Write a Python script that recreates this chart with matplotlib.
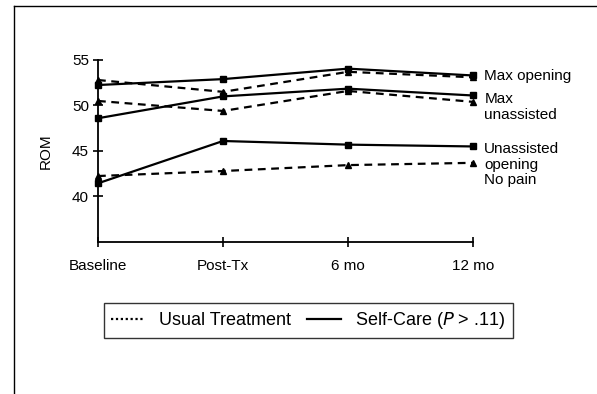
import matplotlib
matplotlib.use("Agg")
import matplotlib.pyplot as plt
from matplotlib.lines import Line2D

plt.rcParams['font.family'] = ['Liberation Sans', 'DejaVu Sans']

timepoints = ['Baseline', 'Post-Tx', '6 mo', '12 mo']

# Self-Care (solid, squares)
sc_max_opening = [52.25, 52.9, 54.05, 53.3]
sc_max_unassisted = [48.6, 51.0, 51.85, 51.1]
sc_no_pain = [41.45, 46.1, 45.7, 45.5]

# Usual Treatment (dashed, triangles)
ut_max_opening = [52.8, 51.5, 53.7, 53.1]
ut_max_unassisted = [50.5, 49.4, 51.6, 50.4]
ut_no_pain = [42.25, 42.8, 43.45, 43.7]

right_labels = ['Max opening', 'Max\nunassisted', 'Unassisted\nopening\nNo pain']
label_y = [53.25, 51.45, 45.95]

fig = plt.figure(figsize=(5.97, 3.94), dpi=100)
ax = fig.add_axes([98 / 597, 1 - 242 / 394, 375 / 597, 182 / 394])

x = range(len(timepoints))
for vals in (ut_max_opening, ut_max_unassisted, ut_no_pain):
    ax.plot(x, vals, color='black', lw=1.6, ls=(0, (3.5, 2.5)), marker='^',
            ms=4.5, clip_on=False)
for vals in (sc_max_opening, sc_max_unassisted, sc_no_pain):
    ax.plot(x, vals, color='black', lw=1.6, ls='-', marker='s',
            ms=4.5, clip_on=False)

ax.set_xlim(0, 3)
ax.set_ylim(35, 55)
ax.set_yticks([40, 45, 50, 55])
ax.set_xticks(list(x))
ax.set_xticklabels(timepoints)
for s in ('top', 'right'):
    ax.spines[s].set_visible(False)
for s in ('left', 'bottom'):
    ax.spines[s].set_linewidth(1.3)
ax.tick_params(direction='inout', length=7, width=1.2, labelsize=11,
               colors='black')
ax.tick_params(axis='x', pad=9)
ax.tick_params(axis='y', pad=3)
ax.set_ylabel('ROM', fontsize=11, labelpad=14)

for lab, yv in zip(right_labels, label_y):
    ax.text(3.09, yv, lab, fontsize=11, va='top' if '\n' in lab else 'center',
            ha='left', transform=ax.transData, linespacing=1.12)

# figure frame (left and top edges only)
fig.add_artist(Line2D([14 / 597, 14 / 597], [0, 1 - 6 / 394], color='black',
                      lw=1, transform=fig.transFigure))
fig.add_artist(Line2D([14 / 597, 1], [1 - 6 / 394, 1 - 6 / 394], color='black',
                      lw=1, transform=fig.transFigure))

handles = [Line2D([], [], color='black', lw=1.6, ls=(0, (1, 1.2))),
           Line2D([], [], color='black', lw=1.6, ls='-')]
labels = ['Usual Treatment', r'Self-Care ($\it{P}$ > .11)']
leg = fig.legend(handles, labels, loc='center', ncol=2,
                 bbox_to_anchor=(308.5 / 597, 1 - 320.5 / 394),
                 fontsize=13, frameon=True, fancybox=False,
                 handlelength=1.85, handletextpad=0.8, columnspacing=0.9,
                 borderpad=0.4, borderaxespad=0)
leg.get_frame().set_edgecolor('black')
leg.get_frame().set_linewidth(1)

fig.savefig('out.png', dpi=100)
